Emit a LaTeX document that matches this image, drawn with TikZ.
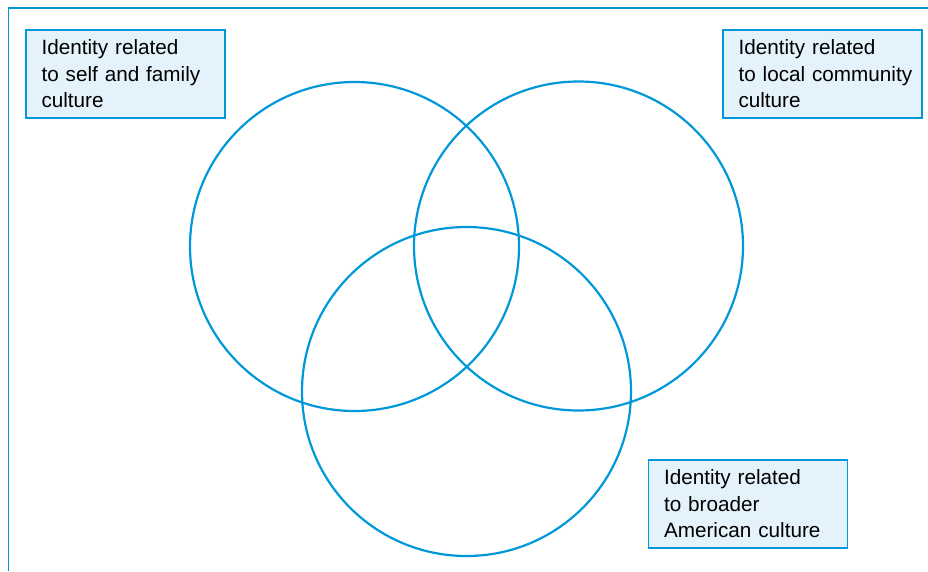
\documentclass[tikz,border=0pt]{standalone}
\usepackage{fontspec}
\setmainfont{Liberation Sans}
\definecolor{vblue}{RGB}{0,152,216}
\definecolor{vfill}{RGB}{228,243,251}
\hyphenpenalty=10000
\begin{document}
\begin{tikzpicture}[x=1pt,y=-1pt,
  ring/.style={draw=vblue,line width=2.2pt},
  label/.style={draw=vblue,fill=vfill,line width=1.3pt,minimum width=199pt,minimum height=88pt,
     text width=168pt,inner xsep=15.5pt,align=left,font=\fontsize{20.7}{26.5}\selectfont,text=black}]
\useasboundingbox (0,0) rectangle (928,571);
\coordinate (ftl) at (8.5,8);
\coordinate (ftr) at (928,8);
\coordinate (fbl) at (8.5,571);
\draw[vblue,line width=1.5pt] (ftr) -- (ftl) -- (fbl);
\node[ring,circle,minimum size=329pt] (c1) at (354.5,246.5) {};
\node[ring,circle,minimum size=329pt] (c2) at (578.5,246) {};
\node[ring,circle,minimum size=329pt] (c3) at (466.5,391.5) {};
\node[label] (b1) at (125.5,74) {Identity related\\to self and family\\culture};
\node[label] (b2) at (822.5,74) {Identity related\\to~local~community\\culture};
\node[label] (b3) at (748,504) {Identity related\\to broader\\American culture};
\end{tikzpicture}
\end{document}
